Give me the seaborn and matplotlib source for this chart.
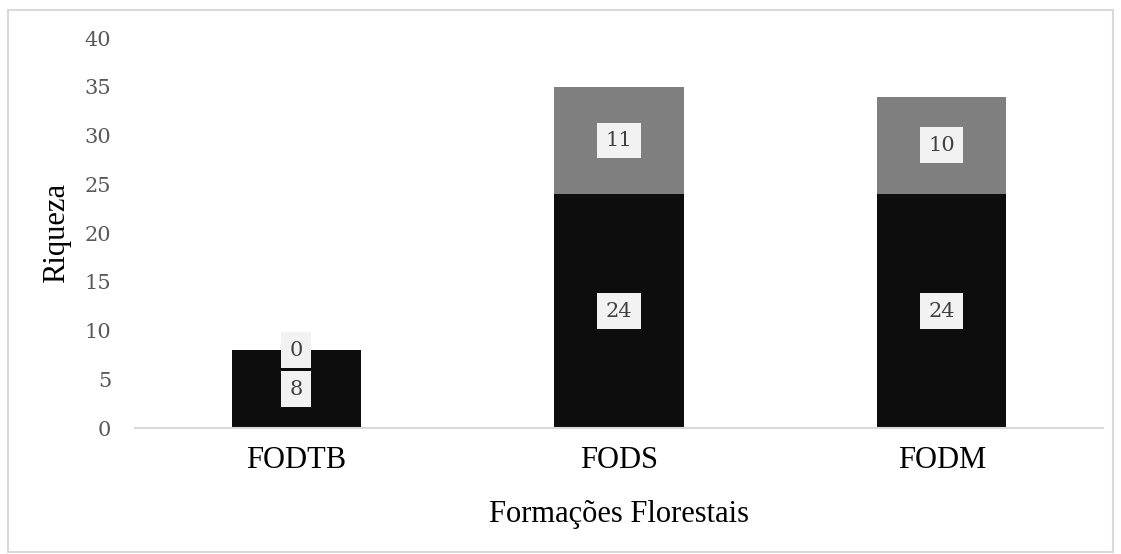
import matplotlib
matplotlib.use("Agg")
import matplotlib.pyplot as plt
import seaborn as sns
import pandas as pd
from matplotlib.patches import Rectangle

categories = ["FODTB", "FODS", "FODM"]
bottom_vals = [8, 24, 24]
top_vals = [0, 11, 10]
yticks = [0, 5, 10, 15, 20, 25, 30, 35, 40]

sns.set_theme(style="white")
plt.rcParams["font.family"] = ["Liberation Serif", "DejaVu Serif"]

totals = [b + t for b, t in zip(bottom_vals, top_vals)]
df = pd.DataFrame({"cat": categories, "bottom": bottom_vals, "top": top_vals, "total": totals})

fig = plt.figure(figsize=(11.21, 5.54), dpi=100)
ax = fig.add_axes([0.1204, 0.2274, 0.984 - 0.1204, 0.9314 - 0.2274])

sns.barplot(data=df, x="cat", y="total", color="#7f7f7f", saturation=1, width=0.4, ax=ax,
            linewidth=0)
sns.barplot(data=df, x="cat", y="bottom", color="#0d0d0d", saturation=1, width=0.4, ax=ax,
            linewidth=0)

ax.set_ylim(0, 40)
ax.set_xlim(-0.5, 2.5)
ax.set_yticks(yticks)
ax.set_yticklabels([str(v) for v in yticks], fontfamily="DejaVu Serif", fontsize=15, color="#595959")
ax.tick_params(axis="y", length=0, pad=17)
ax.tick_params(axis="x", length=0, pad=13, labelsize=22, labelcolor="black")
for lab in ax.get_xticklabels():
    lab.set_fontfamily("Liberation Serif")

for s in ["top", "right", "left"]:
    ax.spines[s].set_visible(False)
ax.spines["bottom"].set_color("#d9d9d9")
ax.spines["bottom"].set_linewidth(1.5)

ax.set_ylabel("Riqueza", fontsize=22, color="black")
ax.yaxis.set_label_coords(-0.066, 0.5)
ax.set_xlabel("Formações Florestais", fontsize=22, color="black", labelpad=18)

bbox = dict(boxstyle="square,pad=0.4", facecolor="#f2f2f2", edgecolor="none")
for i, (b, t) in enumerate(zip(bottom_vals, top_vals)):
    ax.text(i, b / 2, str(b), ha="center", va="center", fontfamily="DejaVu Serif",
            fontsize=15, color="#404040", bbox=bbox)
    ax.text(i, b + t / 2, str(t), ha="center", va="center", fontfamily="DejaVu Serif",
            fontsize=15, color="#404040", bbox=bbox)

fig.patches.append(Rectangle((8 / 1121, 2 / 554), 1 - 16 / 1121, 1 - 12 / 554,
                             transform=fig.transFigure, fill=False,
                             edgecolor="#d9d9d9", linewidth=1.5))

fig.savefig("out.png", dpi=100, facecolor="white")
